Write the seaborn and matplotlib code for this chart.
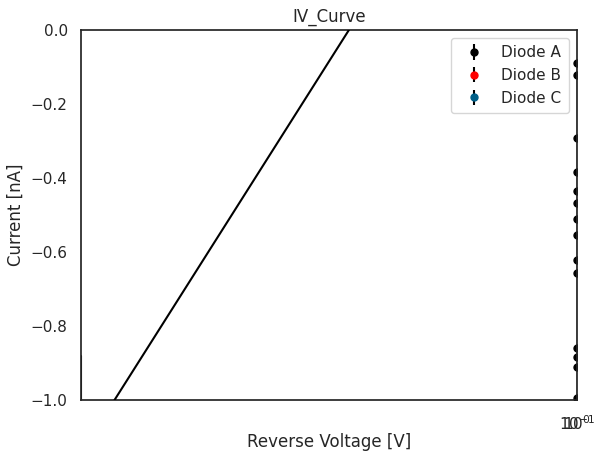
import numpy as np
import pandas as pd
import seaborn as sns
import matplotlib
matplotlib.use("Agg")
import matplotlib.pyplot as plt

# reverse voltage / current readings
voltage_a = [0.1] * 14
current_a = [-0.089, -0.122, -0.292, -0.384, -0.435, -0.468, -0.511,
             -0.554, -0.622, -0.657, -0.859, -0.884, -0.911, -0.995]
current_err_a = [0.005] * 14

voltage_b = []
current_b = []
voltage_c = []
current_c = []

# linear fit line
fit_voltage = [0.09533, 0.09767]
fit_current = [-1.0, 0.0]

# stray trace at the left edge
edge_voltage = [0.095, 0.095]
edge_current = [-1.0, -0.88]

tick_major = [0.1]
tick_major_labels = ["$\\mathdefault{10^{-1}}$"]
tick_minor = [0.1]
tick_minor_labels = ["$\\mathdefault{10^{0}}$"]

sns.set_theme(style="white")

fig, ax = plt.subplots(figsize=(6.04, 4.62), dpi=100)

fit = pd.DataFrame({"V": fit_voltage, "I": fit_current})
sns.lineplot(data=fit, x="V", y="I", color="black", ax=ax, zorder=3)
ax.plot(edge_voltage, edge_current, color="black", lw=1.5)

ax.errorbar(voltage_a, current_a, yerr=current_err_a, fmt="o", color="black",
            ecolor="black", markersize=5, label="Diode A")
ax.errorbar(voltage_b, current_b, yerr=[], fmt="o", color="red",
            ecolor="black", markersize=5, label="Diode B")
ax.errorbar(voltage_c, current_c, yerr=[], fmt="o", color="#005f87",
            ecolor="black", markersize=5, label="Diode C")
ax.vlines(voltage_a[0], min(current_a), max(current_a), color="black", lw=1)

ax.set_xscale("log")
ax.set_xlim(0.095, 0.1)
ax.set_ylim(-1.0, 0.0)
ax.xaxis.remove_overlapping_locs = False
ax.set_xticks(tick_major, labels=tick_major_labels)
ax.set_xticks(tick_minor, labels=tick_minor_labels, minor=True)
ax.tick_params(axis="x", which="both", length=0, pad=10, labelsize=11)
ax.set_title("IV_Curve")
ax.set_xlabel("Reverse Voltage [V]", labelpad=0)
ax.set_ylabel("Current [nA]")
ax.legend(loc="upper right", borderpad=0.5)

fig.subplots_adjust(left=0.134, right=0.955, top=0.935, bottom=0.134)
fig.savefig("out.png", dpi=100)
